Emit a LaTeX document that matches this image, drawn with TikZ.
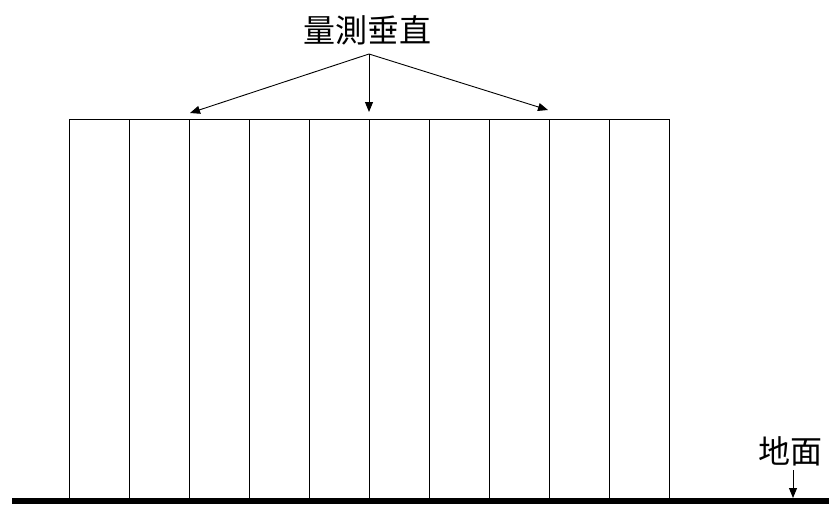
\documentclass[tikz,border=0pt]{standalone}
\usepackage{fontspec}
\newfontfamily\cjk{Noto Sans CJK TC}
\usetikzlibrary{arrows.meta}
\begin{document}
\begin{tikzpicture}[x=1pt,y=-1pt,
  thinline/.style={line width=0.9pt},
  arr/.style={line width=0.9pt,-{Triangle[length=10pt,width=8pt]}},
  lbl/.style={font=\cjk\fontsize{32}{36}\selectfont,inner sep=0pt}]
\useasboundingbox (0,0) rectangle (829,504);
% text nodes
\node[lbl] (title) at (367,30) {量測垂直};
\node[lbl] (ground) at (790,451) {地面};
\coordinate (apex) at (369,54);
\coordinate (tl) at (190,113);
\coordinate (tm) at (369,112);
\coordinate (tr) at (548,110);
\draw[arr] (apex) -- (tl);
\draw[arr] (apex) -- (tm);
\draw[arr] (apex) -- (tr);
% columns
\draw[thinline] (69,119) -- (669,119);
\foreach \i in {0,...,10} {
  \draw[thinline] ({69+60*\i},119) -- ({69+60*\i},499);
}
% ground
\fill (12,498) rectangle (829,504);
\coordinate (gtop) at (793,470);
\coordinate (gbot) at (793,498);
\draw[arr] (gtop) -- (gbot);
\end{tikzpicture}
\end{document}
